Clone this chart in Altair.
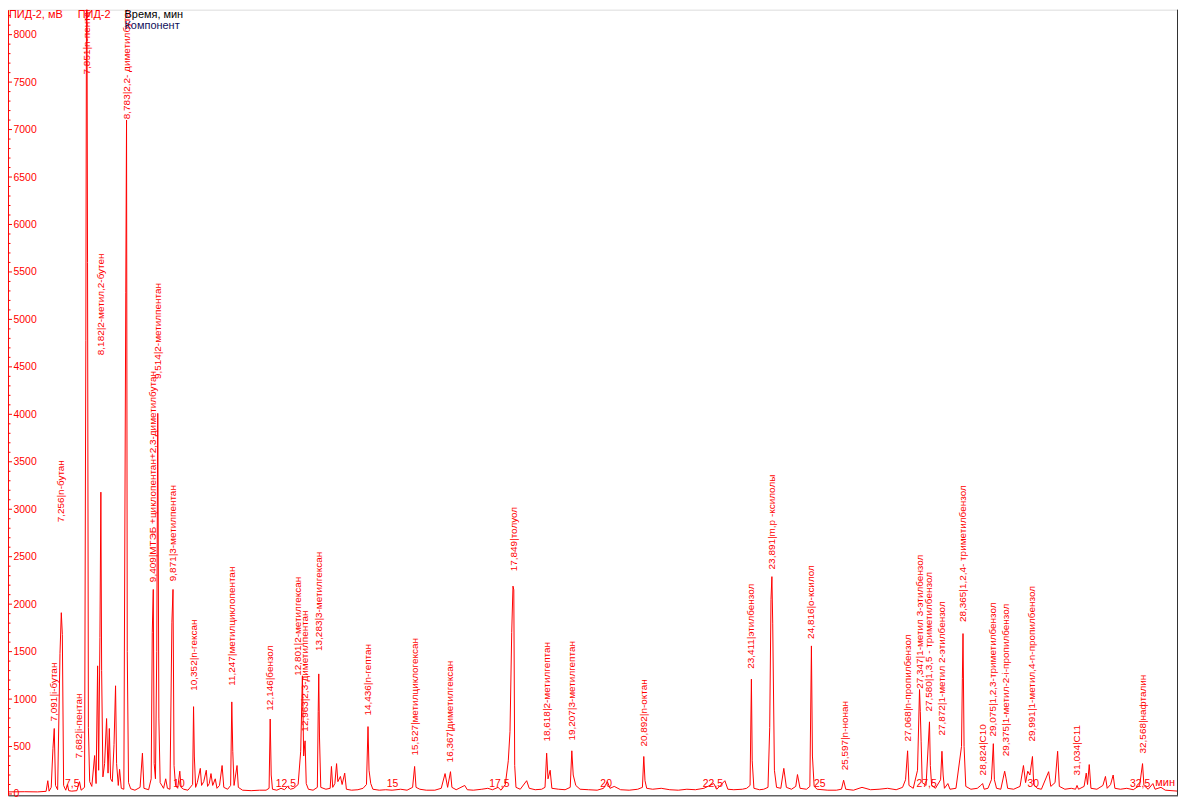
import altair as alt
import pandas as pd

# ---------------- data ----------------
time_min = [
    6.00, 6.40, 6.70, 6.90, 6.94, 6.97, 7.02, 7.06, 7.091, 7.12, 7.17,
    7.225, 7.256, 7.28, 7.31, 7.36, 7.40, 7.43, 7.50, 7.62, 7.682, 7.72,
    7.80, 7.83, 7.851, 7.87, 7.89, 7.92, 7.97, 8.036, 8.07, 8.106, 8.13,
    8.16, 8.182, 8.20, 8.23, 8.27, 8.316, 8.35, 8.38, 8.41, 8.45, 8.49,
    8.526, 8.55, 8.59, 8.62, 8.66, 8.72, 8.765, 8.783, 8.80, 8.83, 8.88,
    8.98, 9.10, 9.155, 9.19, 9.30, 9.36, 9.385, 9.409, 9.43, 9.46, 9.49,
    9.514, 9.54, 9.57, 9.65, 9.70, 9.74, 9.80, 9.845, 9.871, 9.895, 9.93,
    9.98, 10.03, 10.06, 10.12, 10.22, 10.33, 10.352, 10.37, 10.40, 10.44,
    10.51, 10.54, 10.59, 10.65, 10.68, 10.72, 10.76, 10.80, 10.86, 10.90,
    10.96, 11.02, 11.06, 11.15, 11.22, 11.247, 11.27, 11.30, 11.37, 11.40,
    11.50, 11.70, 11.90, 12.05, 12.12, 12.146, 12.17, 12.20, 12.30, 12.40,
    12.48, 12.55, 12.62, 12.70, 12.80, 12.86, 12.90, 12.93, 12.963, 12.99,
    13.04, 13.15, 13.25, 13.27, 13.283, 13.30, 13.33, 13.45, 13.55, 13.58,
    13.61, 13.66, 13.70, 13.73, 13.79, 13.83, 13.89, 13.93, 14.05, 14.20,
    14.32, 14.40, 14.436, 14.46, 14.50, 14.55, 14.70, 14.85, 15.00, 15.20,
    15.35, 15.48, 15.527, 15.56, 15.65, 15.80, 16.00, 16.15, 16.24, 16.30,
    16.367, 16.40, 16.50, 16.70, 16.76, 16.90, 17.10, 17.24, 17.35, 17.48,
    17.55, 17.65, 17.72, 17.76, 17.80, 17.83, 17.849, 17.87, 17.90, 18.00,
    18.15, 18.21, 18.35, 18.50, 18.58, 18.618, 18.65, 18.70, 18.74, 18.90,
    19.05, 19.17, 19.207, 19.24, 19.30, 19.40, 19.60, 19.80, 19.95, 20.04,
    20.10, 20.20, 20.35, 20.55, 20.75, 20.86, 20.892, 20.92, 20.96, 21.10,
    21.30, 21.50, 21.70, 21.90, 22.10, 22.30, 22.53, 22.60, 22.79, 22.86,
    23.00, 23.20, 23.30, 23.38, 23.411, 23.43, 23.47, 23.60, 23.70, 23.80,
    23.84, 23.87, 23.891, 23.91, 23.95, 24.00, 24.10, 24.17, 24.23, 24.35,
    24.45, 24.49, 24.55, 24.70, 24.78, 24.816, 24.84, 24.88, 24.95, 25.20,
    25.40, 25.52, 25.57, 25.62, 25.80, 26.00, 26.20, 26.40, 26.60, 26.80,
    26.95, 27.02, 27.068, 27.10, 27.20, 27.30, 27.347, 27.365, 27.385, 27.41,
    27.50, 27.58, 27.60, 27.63, 27.72, 27.84, 27.872, 27.90, 27.93, 28.01,
    28.06, 28.20, 28.33, 28.35, 28.365, 28.39, 28.43, 28.55, 28.70, 28.78,
    28.824, 28.86, 28.95, 29.03, 29.075, 29.10, 29.15, 29.25, 29.34, 29.375,
    29.41, 29.55, 29.70, 29.78, 29.83, 29.88, 29.93, 29.991, 30.02, 30.10,
    30.20, 30.37, 30.42, 30.52, 30.58, 30.62, 30.75, 30.90, 31.00, 31.034,
    31.07, 31.20, 31.25, 31.28, 31.32, 31.36, 31.50, 31.64, 31.70, 31.74,
    31.82, 31.88, 31.92, 32.05, 32.20, 32.35, 32.50, 32.568, 32.60, 32.70,
    32.81, 32.86, 33.00, 33.10, 33.40,
]
signal_mv = [
    22, 24, 22, 28, 140, 30, 70, 480, 690, 90, 45,
    1480, 1910, 1680, 90, 40, 100, 35, 30, 35, 130, 40,
    70, 4780, 9600, 5600, 700, 130, 80, 405, 110, 1350, 250,
    1650, 3180, 1300, 180, 320, 795, 220, 690, 160, 130, 520,
    1140, 320, 90, 260, 60, 50, 5280, 7100, 1500, 120, 55,
    40, 70, 430, 60, 45, 160, 1700, 2155, 320, 160, 1500,
    4010, 800, 120, 60, 160, 60, 50, 1810, 2155, 300, 90,
    60, 240, 70, 50, 40, 100, 920, 400, 70, 120,
    270, 90, 130, 250, 80, 110, 215, 90, 160, 60,
    90, 300, 70, 50, 90, 970, 450, 90, 300, 70,
    40, 35, 40, 40, 60, 790, 200, 50, 40, 60,
    45, 80, 50, 60, 100, 450, 1245, 400, 560, 110,
    50, 40, 70, 870, 1265, 600, 70, 50, 60, 290,
    70, 110, 320, 130, 185, 100, 220, 50, 40, 45,
    60, 100, 710, 250, 110, 50, 40, 45, 40, 50,
    40, 70, 290, 70, 50, 40, 40, 60, 215, 70,
    235, 70, 45, 90, 45, 40, 50, 60, 45, 70,
    40, 100, 350, 660, 1700, 2190, 2150, 300, 70, 50,
    140, 60, 45, 50, 70, 430, 160, 250, 60, 50,
    45, 70, 455, 200, 90, 50, 45, 40, 60, 130,
    60, 80, 45, 40, 50, 70, 395, 140, 60, 50,
    60, 45, 40, 50, 45, 60, 110, 50, 140, 50,
    45, 50, 60, 90, 1210, 350, 60, 45, 50, 70,
    700, 2050, 2290, 1800, 250, 70, 60, 270, 70, 50,
    80, 205, 60, 50, 80, 1560, 400, 80, 50, 40,
    40, 50, 145, 50, 40, 70, 45, 50, 60, 45,
    70, 150, 455, 90, 60, 250, 1100, 870, 550, 120,
    90, 760, 300, 90, 60, 150, 450, 200, 60, 110,
    50, 60, 500, 1215, 1690, 500, 80, 50, 60, 90,
    110, 50, 60, 150, 530, 150, 60, 50, 240, 160,
    60, 50, 80, 300, 120, 240, 200, 395, 100, 60,
    50, 235, 80, 120, 450, 80, 50, 60, 50, 90,
    50, 80, 220, 100, 310, 60, 50, 90, 185, 60,
    100, 200, 60, 50, 60, 45, 90, 320, 90, 50,
    110, 50, 70, 40, 30,
]

peak_rt = [
    7.091, 7.256, 7.682, 7.851, 8.182, 8.783, 9.409, 9.514, 9.871, 10.352,
    11.247, 12.146, 12.801, 12.963, 13.283, 14.436, 15.527, 16.367, 17.849,
    18.618, 19.207, 20.892, 23.411, 23.891, 24.816, 25.597, 27.068, 27.347,
    27.580, 27.872, 28.365, 28.824, 29.075, 29.375, 29.991, 31.034, 32.568,
]
peak_names = [
    "i-бутан", "n-бутан", "i-пентан", "n-пентан", "2-метил,2-бутен",
    "2,2- диметилбутан", "МТЭБ +циклопентан+2,3-диметилбутан", "2-метилпентан",
    "3-метилпентан", "n-гексан", "метилциклопентан", "бензол", "2-метилгексан",
    "2,3-диметилпентан", "3-метилгексан", "n-гептан", "метилциклогексан",
    "диметилгексан", "толуол", "2-метилгептан", "3-метилгептан", "n-октан",
    "этилбензол", "m,p -ксилолы", "o-ксилол", "n-нонан", "n-пропилбензол",
    "1-метил 3-этилбензол", "1,3,5 - триметилбензол", "1-метил 2-этилбензол",
    "1,2,4- триметилбензол", "C10", "1,2,3-триметилбензол",
    "1-метил-2-i-пропилбензол", "1-метил,4-n-пропилбензол", "C11", "нафталин",
]
# signal level (mV) at which each rotated label begins
label_base_mv = [
    764, 2862, 375, 7581, 4623, 7109, 2232, 4371, 2242, 1088,
    1140, 878, 1245, 657, 1507, 826, 406, 333, 2346,
    553, 563, 500, 1319, 2366, 1634, 249, 553, 1108,
    868, 616, 1811, 196, 606, 397, 553, 196, 427,
]

x_ticks = [7.5, 10, 12.5, 15, 17.5, 20, 22.5, 25, 27.5, 30, 32.5]
y_major = list(range(0, 8001, 500))
y_minor = [v for v in range(100, 8300, 100) if v % 500 != 0]

# ---------------- chart ----------------
W, H = 1175, 789
RED = "#ff0000"
FONT = "Liberation Sans"

xs = alt.Scale(domain=[6.008, 33.398], nice=False, zero=False)
ys = alt.Scale(domain=[-14, 8263], nice=False, zero=False)

trace_df = pd.DataFrame({"t": time_min, "v": signal_mv})
label_df = pd.DataFrame({
    "t": peak_rt,
    "v": label_base_mv,
    "txt": [f"{rt:.3f}".replace(".", ",") + "|" + n for rt, n in zip(peak_rt, peak_names)],
})

trace = alt.Chart(trace_df).mark_line(color=RED, strokeWidth=1, clip=True).encode(
    x=alt.X("t:Q", scale=xs, axis=alt.Axis(
        values=x_ticks, format=".1~f", labelExpr="replace(datum.label, '.', ',')",
        ticks=False, grid=False, domainColor="#202020", domainWidth=1,
        labelColor=RED, labelFont=FONT, labelFontSize=10.5, labelPadding=-9,
        labelBaseline="alphabetic", labelFlush=False, labelOverlap=False, title=None)),
    y=alt.Y("v:Q", scale=ys, axis=alt.Axis(
        values=y_major, format="d", ticks=False, grid=False, domainColor=RED,
        labelColor=RED, labelFont=FONT, labelFontSize=10.5, labelAlign="left",
        labelBaseline="middle", labelPadding=-5, labelFlush=False,
        labelOverlap=False, title=None)),
    order="t:Q",
)

labels = alt.Chart(label_df).mark_text(
    angle=270, align="left", baseline="middle", color=RED, font=FONT,
    fontSize=10, clip=True,
).encode(
    x=alt.X("t:Q", scale=xs),
    y=alt.Y("v:Q", scale=ys),
    text="txt:N",
)

major_ticks = alt.Chart(pd.DataFrame({"v": y_major})).mark_rule(color=RED).encode(
    y=alt.Y("v:Q", scale=ys), x=alt.value(0), x2=alt.value(4))
minor_ticks = alt.Chart(pd.DataFrame({"v": y_minor})).mark_rule(color=RED).encode(
    y=alt.Y("v:Q", scale=ys), x=alt.value(0), x2=alt.value(2.5))

right_border = alt.Chart(pd.DataFrame({"a": [0]})).mark_rule(color="#303030").encode(
    x=alt.value(W - 0.5), y=alt.value(0), y2=alt.value(H))


def header(txt, px, py, color, align="left"):
    return alt.Chart(pd.DataFrame({"a": [0]})).mark_text(
        text=txt, align=align, baseline="middle", color=color, font=FONT, fontSize=11,
    ).encode(x=alt.value(px), y=alt.value(py))


headers = [
    header("ПИД-2, мВ", 1, 5, RED),
    header("ПИД-2", 70, 5, RED),
    header("Время, мин", 117, 5, "#000000"),
    header("Компонент", 117, 16, "#10105a"),
    header("мин", W - 3, H - 12, RED, align="right"),
]

chart = alt.layer(
    minor_ticks, major_ticks, trace, labels, right_border, *headers
).properties(
    width=W, height=H, padding=0,
    autosize=alt.AutoSizeParams(type="none"),
).configure_view(stroke=None).configure(background="white")

chart.save("out.html", embed_options={"renderer": "svg", "actions": False})
